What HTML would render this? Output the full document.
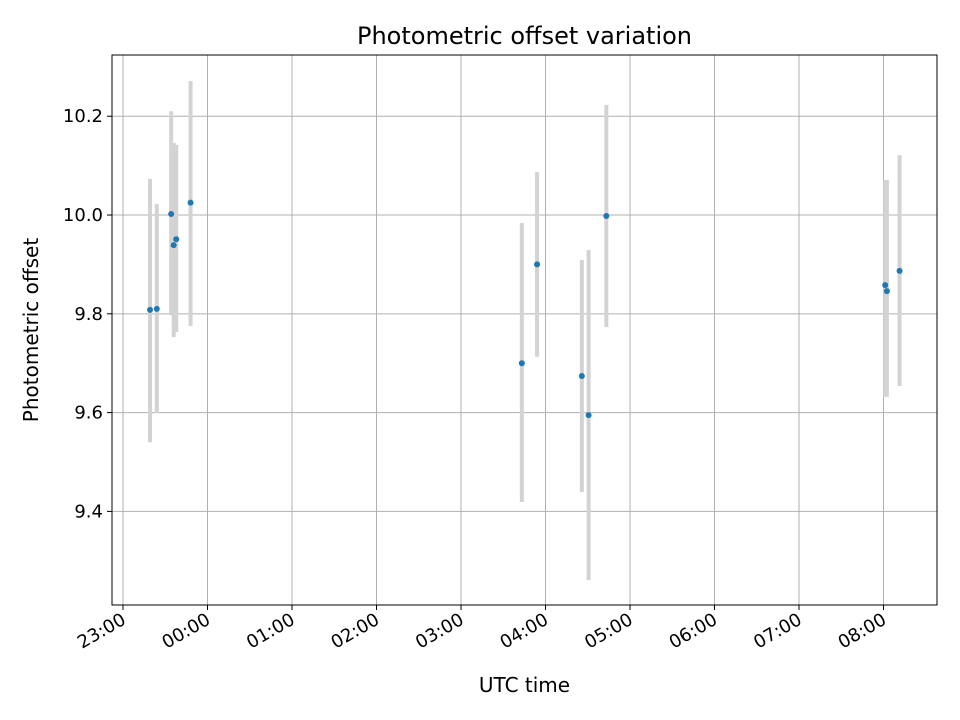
<!DOCTYPE html>
<html><head><meta charset="utf-8"><style>
body{margin:0;background:#fff;}
svg{display:block;font-family:"DejaVu Sans","Liberation Sans",sans-serif;}
</style></head><body>
<svg id="chart" width="960" height="720" viewBox="0 0 960 720">
<rect x="0" y="0" width="960" height="720" fill="#fff"/>
<g id="grid"></g><g id="bars"></g><g id="pts"></g><g id="axes"></g>
<text x="524.5" y="44" text-anchor="middle" font-size="24">Photometric offset variation</text>
<text x="524.5" y="692" text-anchor="middle" font-size="20">UTC time</text>
<text transform="translate(38,330) rotate(-90)" text-anchor="middle" font-size="20">Photometric offset</text>
</svg>
<script>
// hours after 23:00
const times = [0.32,0.40,0.57,0.60,0.63,0.80,4.72,4.90,5.43,5.51,5.72,9.02,9.04,9.19];
const offsets = [9.808,9.810,10.002,9.939,9.951,10.025,9.700,9.900,9.674,9.595,9.998,9.858,9.846,9.887];
const errLow = [9.540,9.599,9.797,9.753,9.763,9.775,9.419,9.713,9.439,9.261,9.773,9.632,9.632,9.654];
const errHigh = [10.073,10.022,10.210,10.146,10.142,10.271,9.984,10.087,9.909,9.929,10.223,10.071,10.071,10.121];
const xTickLabels = ["23:00","00:00","01:00","02:00","03:00","04:00","05:00","06:00","07:00","08:00"];
const yTicks = [9.4,9.6,9.8,10.0,10.2];

const L=112,R=937,T=55,B=605;
const xMin=-0.13,xMax=9.633,yMin=9.2105,yMax=10.324;
const sx=v=>L+(v-xMin)/(xMax-xMin)*(R-L);
const sy=v=>B-(v-yMin)/(yMax-yMin)*(B-T);
const NS="http://www.w3.org/2000/svg";
function mk(tag,attrs,parent){const e=document.createElementNS(NS,tag);for(const k in attrs)e.setAttribute(k,attrs[k]);parent.appendChild(e);return e;}
const grid=document.getElementById('grid'),bars=document.getElementById('bars'),pts=document.getElementById('pts'),axes=document.getElementById('axes');

xTickLabels.forEach((lab,i)=>{
  const x=sx(i);
  const g=mk('line',{x1:x,x2:x,y1:T,y2:B,stroke:'#b0b0b0','stroke-width':1},grid);
  
  
  const t=mk('line',{x1:x,x2:x,y1:B,y2:B+5,stroke:'#000','stroke-width':1},axes);
  
  
  const tx=mk('text',{x:x+4,y:B+18,'font-size':18,'text-anchor':'end',transform:`rotate(-30 ${x+4} ${B+18})`},axes);
  tx.textContent=lab;
  
  
});
yTicks.forEach(v=>{
  const y=sy(v);
  const g=mk('line',{x1:L,x2:R,y1:y,y2:y,stroke:'#b0b0b0','stroke-width':1},grid);
  
  
  const t=mk('line',{x1:L-5,x2:L,y1:y,y2:y,stroke:'#000','stroke-width':1},axes);
  
  
  const tx=mk('text',{x:L-9,y:y+6,'font-size':18,'text-anchor':'end'},axes);
  tx.textContent=v.toFixed(1);
  
  
});
times.forEach((t,i)=>{
  const x=sx(t);
  const b=mk('line',{x1:x,x2:x,y1:sy(errLow[i]),y2:sy(errHigh[i]),stroke:'#d3d3d3','stroke-width':4},bars);
  
  
  const c=mk('circle',{cx:x,cy:sy(offsets[i]),r:3,fill:'#1f77b4'},pts);
  
  
});
const fr=mk('rect',{x:L,y:T,width:R-L,height:B-T,fill:'none',stroke:'#000','stroke-width':1},axes);


</script>
</body></html>
